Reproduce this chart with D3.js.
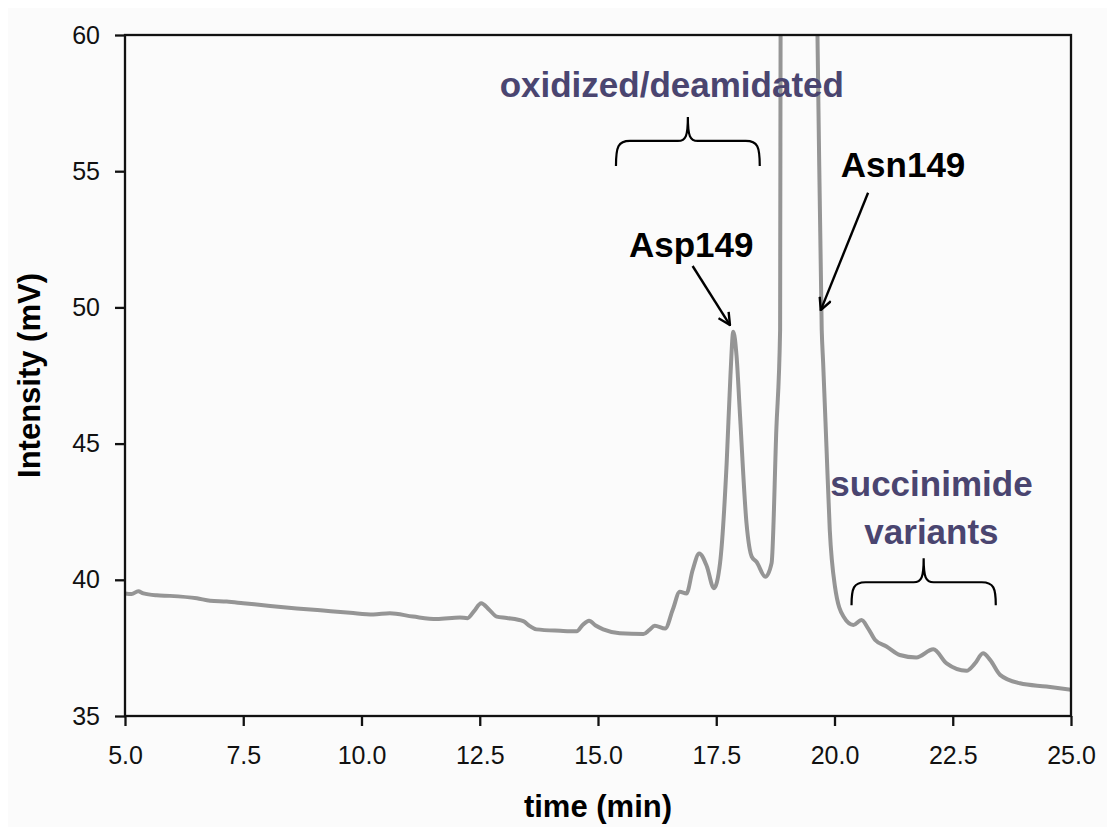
<!DOCTYPE html>
<html>
<head>
<meta charset="utf-8">
<script src="https://cdn.jsdelivr.net/npm/d3@7"></script>
<style>
    body { margin: 0; background: #ffffff; }
    text { font-family: Arial, "Liberation Sans", sans-serif; }
    .tick text { font-size: 25px; fill: #111; }
    .axis-title { font-size: 31px; font-weight: bold; fill: #000; }
    .label { font-size: 35px; font-weight: bold; }
</style>
</head>
<body>
<div id="plot"></div>
<script>
// chromatogram: time (min) / intensity (mV)
let times = [5.0, 5.14, 5.28, 5.39, 5.67, 5.95, 6.52, 6.80, 7.15, 7.50, 8.07, 8.63, 9.19, 9.76,
    10.25, 10.60, 11.09, 11.59, 12.08, 12.24, 12.38, 12.53, 12.70, 12.86, 13.07, 13.42, 13.56,
    13.70, 14.20, 14.55, 14.68, 14.81, 14.95, 15.11, 15.46, 15.96, 16.08, 16.20, 16.42, 16.58,
    16.73, 16.87, 17.00, 17.14, 17.30, 17.45, 17.58, 17.72, 17.80, 17.86, 17.93, 18.00, 18.14,
    18.25, 18.35, 18.54, 18.67, 18.77, 18.85, 18.86, 19.0, 19.25, 19.5, 19.64, 19.73, 19.76,
    19.83, 19.90, 20.01, 20.19, 20.40, 20.57, 20.71, 20.86, 21.10, 21.38, 21.73, 22.09, 22.37,
    22.79, 22.97, 23.14, 23.29, 23.50, 23.92, 24.48, 25.0];
let intensity = [39.50, 39.48, 39.58, 39.50, 39.43, 39.41, 39.32, 39.23, 39.20, 39.14, 39.04,
    38.95, 38.87, 38.79, 38.73, 38.77, 38.65, 38.56, 38.62, 38.59, 38.85, 39.14, 38.90, 38.65,
    38.60, 38.48, 38.30, 38.18, 38.13, 38.11, 38.35, 38.50, 38.32, 38.18, 38.04, 38.01, 38.15,
    38.31, 38.21, 38.90, 39.56, 39.50, 40.35, 40.97, 40.50, 39.69, 40.61, 44.28, 47.50, 49.11,
    48.20, 46.11, 42.07, 40.85, 40.66, 40.11, 40.61, 45.50, 49.17, 60.0, 70.0, 74.0, 70.0, 60.0,
    49.17, 47.96, 44.89, 41.83, 39.75, 38.65, 38.34, 38.52, 38.22, 37.79, 37.55, 37.24, 37.15,
    37.45, 36.93, 36.66, 36.93, 37.30, 37.06, 36.51, 36.20, 36.08, 35.96];

let xTicks = [5.0, 7.5, 10.0, 12.5, 15.0, 17.5, 20.0, 22.5, 25.0];
let yTicks = [35, 40, 45, 50, 55, 60];

// annotations, in data units
let labels = [
    { text: "oxidized/deamidated", t: 16.56, v: 57.72, color: "#4a4570" },
    { text: "Asp149", t: 16.97, v: 51.85, color: "#000" },
    { text: "Asn149", t: 21.45, v: 54.78, color: "#000" },
    { text: "succinimide", t: 22.05, v: 43.08, color: "#4a4570" },
    { text: "variants", t: 22.05, v: 41.31, color: "#4a4570" }
];
let braces = [
    { t0: 15.38, t1: 18.42, vEnd: 55.19, vBar: 56.11, vTip: 56.99 },
    { t0: 20.36, t1: 23.41, vEnd: 39.07, vBar: 39.91, vTip: 40.79 }
];
let arrows = [
    { t0: 17.00, v0: 51.52, t1: 17.79, v1: 49.35 },
    { t0: 20.71, v0: 54.21, t1: 19.71, v1: 49.90 }
];

let width = 1107, height = 827;
let margin = { top: 35, left: 125, right: 36, bottom: 111 };

let svg = d3.select("#plot").append("svg")
    .attr("width", width)
    .attr("height", height);

svg.append("rect")
    .attr("x", 8).attr("y", 8)
    .attr("width", width - 8).attr("height", height - 8)
    .attr("fill", "#fbfbfb");

let x = d3.scaleLinear().domain([5, 25]).range([margin.left, width - margin.right]);
let y = d3.scaleLinear().domain([35, 60]).range([height - margin.bottom, margin.top]);

let defs = svg.append("defs");
defs.append("clipPath")
    .attr("id", "clip")
    .append("rect")
    .attr("x", x(5)).attr("y", y(60))
    .attr("width", x(25) - x(5)).attr("height", y(35) - y(60));

defs.append("marker")
    .attr("id", "head")
    .attr("viewBox", "0 0 14 14")
    .attr("refX", 13).attr("refY", 7)
    .attr("markerWidth", 14).attr("markerHeight", 14)
    .attr("markerUnits", "userSpaceOnUse")
    .attr("orient", "auto")
    .append("path")
    .attr("d", "M1,1 L13,7 L1,13")
    .attr("fill", "none")
    .attr("stroke", "#000")
    .attr("stroke-width", 2.4);

// trace
let points = times.map(function (t, i) { return [t, intensity[i]]; });
let line = d3.line()
    .x(function (d) { return x(d[0]); })
    .y(function (d) { return y(d[1]); })
    .curve(d3.curveMonotoneX);

svg.append("path")
    .datum(points)
    .attr("clip-path", "url(#clip)")
    .attr("d", line)
    .attr("fill", "none")
    .attr("stroke", "#959595")
    .attr("stroke-width", 4)
    .attr("stroke-linejoin", "round");

// frame + axes
svg.append("rect")
    .attr("x", x(5)).attr("y", y(60))
    .attr("width", x(25) - x(5)).attr("height", y(35) - y(60))
    .attr("fill", "none")
    .attr("stroke", "#111")
    .attr("stroke-width", 2.3);

let xAxis = svg.append("g")
    .attr("transform", "translate(0," + y(35) + ")")
    .call(d3.axisBottom(x).tickValues(xTicks).tickFormat(d3.format(".1f")).tickSize(10).tickPadding(20));
let yAxis = svg.append("g")
    .attr("transform", "translate(" + x(5) + ",0)")
    .call(d3.axisLeft(y).tickValues(yTicks).tickSize(10).tickPadding(15));

[xAxis, yAxis].forEach(function (a) {
    a.select(".domain").remove();
    a.selectAll(".tick line").attr("stroke", "#111").attr("stroke-width", 2.3);
});

svg.append("text")
    .attr("class", "axis-title")
    .attr("text-anchor", "middle")
    .attr("x", (x(5) + x(25)) / 2)
    .attr("y", 817)
    .text("time (min)");

svg.append("text")
    .attr("class", "axis-title")
    .attr("text-anchor", "middle")
    .attr("transform", "translate(40," + (y(35) + y(60)) / 2 + ") rotate(-90)")
    .text("Intensity (mV)");

// labels
svg.selectAll(".label")
    .data(labels)
    .enter()
    .append("text")
    .attr("class", "label")
    .attr("text-anchor", "middle")
    .attr("x", function (d) { return x(d.t); })
    .attr("y", function (d) { return y(d.v); })
    .attr("fill", function (d) { return d.color; })
    .text(function (d) { return d.text; });

// curly braces
function bracePath(b) {
    let x0 = x(b.t0), x1 = x(b.t1), xm = (x0 + x1) / 2;
    let ye = y(b.vEnd), yb = y(b.vBar), yt = y(b.vTip);
    return "M" + x0 + "," + ye +
        " C" + x0 + "," + (yb + 6) + " " + (x0 + 2) + "," + yb + " " + (x0 + 14) + "," + yb +
        " L" + (xm - 10) + "," + yb +
        " C" + (xm - 2) + "," + yb + " " + xm + "," + (yb - 5) + " " + xm + "," + yt +
        " C" + xm + "," + (yb - 5) + " " + (xm + 2) + "," + yb + " " + (xm + 10) + "," + yb +
        " L" + (x1 - 14) + "," + yb +
        " C" + (x1 - 2) + "," + yb + " " + x1 + "," + (yb + 6) + " " + x1 + "," + ye;
}

svg.selectAll(".brace")
    .data(braces)
    .enter()
    .append("path")
    .attr("class", "brace")
    .attr("d", bracePath)
    .attr("fill", "none")
    .attr("stroke", "#000")
    .attr("stroke-width", 2.2);

// arrows
svg.selectAll(".arrow")
    .data(arrows)
    .enter()
    .append("line")
    .attr("class", "arrow")
    .attr("x1", function (d) { return x(d.t0); })
    .attr("y1", function (d) { return y(d.v0); })
    .attr("x2", function (d) { return x(d.t1); })
    .attr("y2", function (d) { return y(d.v1); })
    .attr("stroke", "#000")
    .attr("stroke-width", 2.4)
    .attr("marker-end", "url(#head)");
</script>
</body>
</html>
